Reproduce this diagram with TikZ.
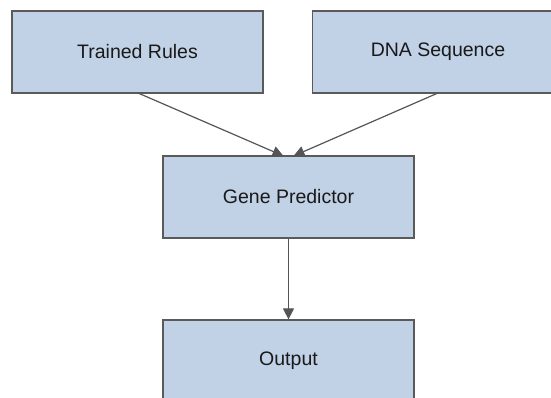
\documentclass[tikz,border=0pt]{standalone}
\usepackage{fontspec}
\setmainfont{Liberation Sans}
\usetikzlibrary{arrows.meta}
\definecolor{boxfill}{HTML}{C1D1E6}
\definecolor{boxline}{HTML}{5A5A5A}
\definecolor{arrline}{HTML}{555555}
\begin{document}
\begin{tikzpicture}[x=1pt,y=1pt,
  block/.style={draw=boxline, fill=boxfill, line width=1.2pt, minimum width=251pt, minimum height=82pt, inner sep=0pt, font=\fontsize{19.5}{23}\selectfont, text=black!90},
  conn/.style={draw=arrline, line width=1.2pt, -{Triangle[length=11pt,width=11pt]}}]
\useasboundingbox (0,0) rectangle (551,398);
\clip (0,0) rectangle (551,398);
\fill[white] (0,0) rectangle (551,398);
\node[block] (rules) at (137.5,346) {Trained Rules};
\node[block] (dna) at (438,346) {DNA Sequence};
\node[block] (gene) at (288.5,201) {Gene Predictor};
\node[block] (out) at (288.5,37) {Output};
\coordinate (r0) at (138,305);
\coordinate (d0) at (438,305);
\coordinate (g1) at (283.5,242);
\coordinate (g2) at (293.5,242);
\draw[conn] (r0) -- (g1);
\draw[conn] (d0) -- (g2);
\draw[conn] (gene.south) -- (out.north);
\end{tikzpicture}
\end{document}
